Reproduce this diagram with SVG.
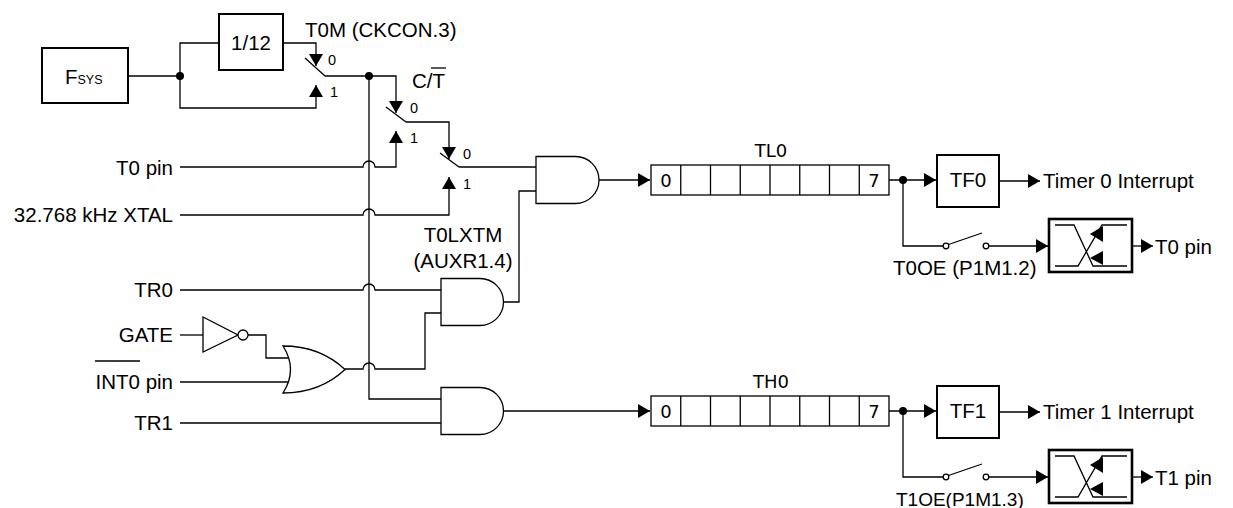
<svg xmlns="http://www.w3.org/2000/svg" width="1233" height="508" viewBox="0 0 1233 508">
<style>
text{font-family:"Liberation Sans",Arial,sans-serif;fill:#000}
.t{font-size:20.5px}
.s{font-size:14.5px}
.r{font-family:"DejaVu Sans","Liberation Sans",sans-serif;font-size:18px}
.w{fill:none;stroke:#000;stroke-width:1.3}
.b{fill:#fff;stroke:#000;stroke-width:2}
.g{fill:#fff;stroke:#000;stroke-width:1.3}
.bx{fill:#fff;stroke:#000;stroke-width:2.6}
.d{fill:#000}
.a{fill:none;stroke:#000;stroke-width:1.3;marker-end:url(#arr)}
</style>
<defs>
<marker id="arr" markerUnits="userSpaceOnUse" markerWidth="13" markerHeight="14" refX="12" refY="7" orient="auto">
<path d="M0,0 L12,7 L0,14 z" fill="#000"/>
</marker>
</defs>

<g id="connectors">
<path class="w" d="M128,76 H180"/>
<path class="w" d="M180,76 V43 H219"/>
<path class="a" d="M180,76 V108 H316 V85"/>
<path class="a" d="M283,43 H316 V66"/>
<path class="a" d="M325,76 H396 V113"/>
<path class="w" d="M369,76 V399 H441"/>
<path class="a" d="M180,167 H363 a6,6 0 0 1 12,0 H396 V131"/>
<path class="a" d="M406,122 H449 V159"/>
<path class="a" d="M180,215 H363 a6,6 0 0 1 12,0 H449 V177"/>
<path class="w" d="M459,167 H536"/>
<path class="w" d="M180,290 H363 a6,6 0 0 1 12,0 H441"/>
<path class="w" d="M180,335 H203"/>
<path class="w" d="M248,335 H266 V358 H289"/>
<path class="w" d="M180,382 H289"/>
<path class="w" d="M345,369 H363 a6,6 0 0 1 12,0 H425 V313 H441"/>
<path class="w" d="M503,302 H519 V191 H536"/>
<path class="a" d="M599,180 H650"/>
<path class="w" d="M180,423 H441"/>
<path class="a" d="M504,411 H650"/>
<path class="a" d="M889,180 H936"/>
<path class="a" d="M999,181 H1040"/>
<path class="w" d="M903,180 V246 H943.5"/>
<path class="a" d="M988.5,246 H1048"/>
<path class="a" d="M1132,246 H1153"/>
<path class="a" d="M889,411 H936"/>
<path class="a" d="M999,412 H1040"/>
<path class="w" d="M903,411 V477 H943.5"/>
<path class="a" d="M988.5,477 H1048"/>
<path class="a" d="M1132,477 H1153"/>
<circle class="d" cx="180" cy="76" r="4"/>
<circle class="d" cx="369" cy="76" r="4"/>
<circle class="d" cx="903" cy="180" r="4"/>
<circle class="d" cx="903" cy="411" r="4"/>
</g>

<g id="fsys">
<rect class="b" x="42" y="48" width="86" height="55"/>
<text class="t" x="65" y="84">F<tspan font-size="12.5">SYS</tspan></text>
</g>

<g id="div12">
<rect class="b" x="219" y="14" width="64" height="56"/>
<text class="t" x="251" y="50" text-anchor="middle">1/12</text>
</g>

<g id="sw_t0m">
<path class="w" d="M305,58 L325,76"/>
<text class="t" x="305" y="37">T0M (CKCON.3)</text>
<text class="s" x="328" y="65">0</text>
<text class="s" x="330" y="97">1</text>
</g>

<g id="sw_ct">
<path class="w" d="M386,107 L406,122"/>
<text class="t" x="412" y="88">C/T</text>
<path class="w" d="M431,68 H446"/>
<text class="s" x="410" y="113">0</text>
<text class="s" x="410" y="143">1</text>
</g>

<g id="sw_lxtm">
<path class="w" d="M440,153 L459,167"/>
<text class="s" x="463" y="159">0</text>
<text class="s" x="463" y="189">1</text>
<text class="t" x="463" y="242" text-anchor="middle">T0LXTM</text>
<text class="t" x="463" y="268" text-anchor="middle">(AUXR1.4)</text>
</g>

<g id="inputs">
<text class="t" x="173" y="175" text-anchor="end">T0 pin</text>
<text class="t" x="173" y="222" text-anchor="end">32.768 kHz XTAL</text>
<text class="t" x="173" y="297" text-anchor="end">TR0</text>
<text class="t" x="173" y="342" text-anchor="end">GATE</text>
<text class="t" x="173" y="389" text-anchor="end">INT0 pin</text>
<path class="w" d="M95,361 H140"/>
<text class="t" x="173" y="430" text-anchor="end">TR1</text>
</g>

<g id="inv">
<polygon class="g" points="203,317 203,352 238,335"/>
<circle class="g" cx="243" cy="335" r="5"/>
</g>

<g id="or1">
<path class="g" d="M283,346 Q320,346 345,369.5 Q320,393 283,393 Q298,369.5 283,346 Z"/>
</g>

<g id="and1">
<path class="g" d="M536,156.5 H575.5 A23.5,23.5 0 0 1 575.5,203.5 H536 Z"/>
</g>

<g id="and2">
<path class="g" d="M441,278.5 H480 A23.5,23.5 0 0 1 480,325.5 H441 Z"/>
</g>

<g id="and3">
<path class="g" d="M441,387.5 H480 A23.5,23.5 0 0 1 480,434.5 H441 Z"/>
</g>

<g id="tl0">
<rect class="g" x="651" y="165" width="238" height="30"/>
<path class="w" d="M680.75,165 V195 M710.5,165 V195 M740.25,165 V195 M770,165 V195 M799.75,165 V195 M829.5,165 V195 M859.25,165 V195"/>
<text class="r" x="666" y="187" text-anchor="middle">0</text>
<text class="r" x="874" y="187" text-anchor="middle">7</text>
<text class="r" x="771" y="157" text-anchor="middle">TL0</text>
</g>

<g id="th0">
<rect class="g" x="651" y="396" width="238" height="30"/>
<path class="w" d="M680.75,396 V426 M710.5,396 V426 M740.25,396 V426 M770,396 V426 M799.75,396 V426 M829.5,396 V426 M859.25,396 V426"/>
<text class="r" x="666" y="418" text-anchor="middle">0</text>
<text class="r" x="874" y="418" text-anchor="middle">7</text>
<text class="r" x="771" y="388" text-anchor="middle">TH0</text>
</g>

<g id="tf0">
<rect class="b" x="937" y="155" width="62" height="52"/>
<text class="t" x="968" y="187" text-anchor="middle">TF0</text>
<text class="t" x="1043" y="188">Timer 0 Interrupt</text>
</g>

<g id="tf1">
<rect class="b" x="937" y="386" width="62" height="52"/>
<text class="t" x="968" y="418" text-anchor="middle">TF1</text>
<text class="t" x="1043" y="419">Timer 1 Interrupt</text>
</g>

<g id="sw_t0oe">
<circle class="g" cx="946" cy="246" r="2.8"/>
<circle class="g" cx="986" cy="246" r="2.8"/>
<path class="w" d="M948.5,244.5 L982,233"/>
<text class="t" x="893" y="275">T0OE (P1M1.2)</text>
</g>

<g id="sw_t1oe">
<circle class="g" cx="946" cy="477" r="2.8"/>
<circle class="g" cx="986" cy="477" r="2.8"/>
<path class="w" d="M948.5,475.5 L982,464"/>
<text class="t" x="896" y="506" font-size="19px" style="font-size:19px">T1OE(P1M1.3)</text>
</g>

<g id="buf0">
<rect class="bx" x="1049" y="219" width="83" height="53"/>
<path class="w" d="M1055,225 H1074 L1093,266 H1127 M1055,266 H1078 L1102,225 H1127"/>
<polygon class="d" points="1090,234 1103,226 1103,242"/>
<polygon class="d" points="1090,258 1103,251 1103,265"/>
<text class="t" x="1155" y="254">T0 pin</text>
</g>

<g id="buf1">
<rect class="bx" x="1049" y="450" width="83" height="53"/>
<path class="w" d="M1055,456 H1074 L1093,497 H1127 M1055,497 H1078 L1102,456 H1127"/>
<polygon class="d" points="1090,465 1103,457 1103,473"/>
<polygon class="d" points="1090,489 1103,482 1103,496"/>
<text class="t" x="1155" y="485">T1 pin</text>
</g>
</svg>
